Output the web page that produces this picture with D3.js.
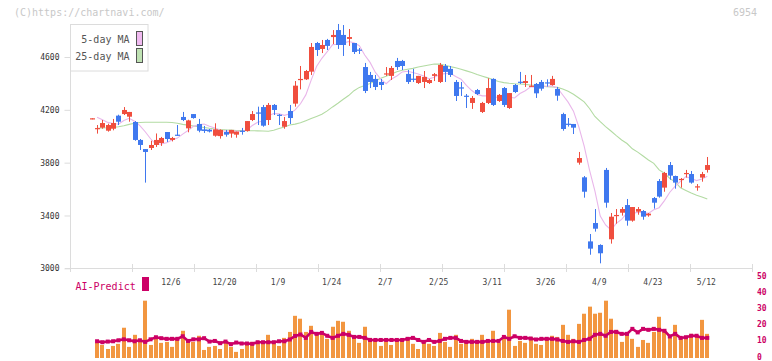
<!DOCTYPE html>
<html><head><meta charset="utf-8">
<script src="https://cdn.jsdelivr.net/npm/d3@7"></script>
<style>body{margin:0;background:#fff}svg{display:block}text{font-family:"DejaVu Sans Mono",monospace}</style>
</head><body>
<svg id="c" width="772" height="361"></svg>
<script>
// ---- data ----
const dates = ["11/15","11/18","11/19","11/20","11/21","11/22","11/25","11/26","11/27","11/28","11/29",
"12/2","12/3","12/4","12/5","12/6","12/9","12/10","12/11","12/12","12/13","12/16","12/17","12/18","12/19","12/20","12/23","12/24","12/25","12/26","12/27","12/30",
"1/6","1/7","1/8","1/9","1/10","1/14","1/15","1/16","1/17","1/20","1/21","1/22","1/23","1/24","1/27","1/28","1/29","1/30","1/31",
"2/3","2/4","2/5","2/6","2/7","2/10","2/12","2/13","2/14","2/17","2/18","2/19","2/20","2/21","2/25","2/26","2/27","2/28",
"3/3","3/4","3/5","3/6","3/7","3/10","3/11","3/12","3/13","3/14","3/17","3/18","3/19","3/21","3/24","3/25","3/26","3/27","3/28","3/31",
"4/1","4/2","4/3","4/4","4/7","4/8","4/9","4/10","4/11","4/14","4/15","4/16","4/17","4/18","4/21","4/22","4/23","4/24","4/25","4/28","4/30",
"5/1","5/2","5/7","5/8","5/9","5/12"];
const open  = [4136,4055,4065,4042,4057,4156,4168,4148,4108,3972,3903,3911,3934,3949,4032,3972,4012,4146,4060,4168,4093,4052,4050,4004,4001,4032,4020,4012,4042,4040,4123,4180,4221,4123,4237,4163,4072,4191,4247,4428,4431,4489,4706,4661,4729,4751,4804,4767,4737,4706,4656,4524,4464,4434,4411,4468,4457,4570,4570,4472,4436,4403,4411,4403,4457,4411,4532,4510,4411,4370,4307,4252,4350,4184,4252,4434,4267,4365,4214,4388,4413,4403,4379,4396,4411,4408,4388,4358,4168,4095,4093,3800,3689,3204,3343,3177,3745,3220,3398,3421,3479,3361,3429,3434,3401,3532,3661,3611,3782,3699,3671,3716,3714,3615,3687,3745];
const high  = [4136,4085,4123,4095,4131,4163,4221,4184,4115,3979,3903,3966,4021,3995,4032,3995,4085,4184,4125,4168,4131,4078,4055,4098,4052,4048,4048,4035,4063,4115,4191,4224,4237,4252,4244,4168,4146,4237,4418,4532,4502,4706,4714,4729,4737,4804,4850,4842,4812,4706,4668,4555,4487,4464,4434,4524,4532,4593,4578,4502,4510,4457,4494,4434,4479,4555,4547,4532,4426,4411,4320,4305,4358,4260,4439,4439,4320,4373,4327,4396,4487,4464,4464,4403,4426,4431,4457,4373,4178,4138,4093,3881,3699,3260,3449,3182,3760,3419,3449,3464,3525,3464,3464,3441,3419,3540,3676,3730,3805,3702,3684,3745,3737,3638,3730,3843];
const low   = [4136,4020,4057,4035,4045,4085,4161,4110,3966,3896,3649,3896,3919,3927,3957,3961,4004,4115,4030,4133,4030,4025,4029,3997,3982,3997,3989,3989,4012,4035,4115,4085,4072,4085,4161,4085,4057,4093,4224,4355,4426,4464,4608,4630,4653,4698,4661,4608,4684,4623,4623,4327,4365,4350,4350,4457,4426,4502,4502,4396,4411,4396,4365,4396,4418,4403,4411,4449,4267,4305,4214,4207,4312,4176,4244,4229,4260,4222,4207,4327,4396,4373,4373,4290,4345,4376,4383,4269,4042,4073,4017,3785,3535,3103,3278,3038,3459,3187,3338,3399,3323,3353,3406,3368,3391,3452,3535,3580,3671,3603,3611,3687,3641,3588,3656,3725];
const close = [4136,4062,4100,4085,4100,4110,4199,4184,3972,3934,3881,3934,3972,3987,3979,3987,4006,4123,4120,4138,4042,4040,4036,4052,4048,4012,4048,4035,4038,4115,4168,4176,4080,4237,4199,4160,4115,4138,4383,4434,4494,4676,4653,4691,4684,4767,4691,4691,4751,4638,4652,4343,4411,4373,4388,4476,4517,4524,4532,4411,4432,4457,4449,4426,4470,4540,4487,4464,4305,4366,4303,4290,4320,4252,4365,4237,4313,4237,4327,4335,4409,4418,4383,4325,4360,4404,4434,4307,4055,4091,4065,3835,3580,3149,3300,3114,3497,3391,3404,3449,3361,3464,3449,3391,3414,3497,3543,3722,3702,3649,3677,3722,3649,3621,3714,3782];
const ma5   = [null,4143,4125,4105,4097,4091,4119,4136,4113,4080,4034,3981,3939,3942,3951,3972,3986,4016,4043,4075,4086,4093,4075,4062,4044,4038,4039,4039,4036,4050,4081,4106,4115,4155,4172,4170,4158,4170,4199,4246,4313,4425,4528,4590,4640,4694,4697,4705,4717,4708,4685,4615,4559,4483,4433,4398,4433,4456,4487,4492,4483,4471,4456,4435,4447,4468,4474,4477,4453,4432,4385,4346,4317,4306,4306,4293,4297,4281,4296,4290,4324,4345,4374,4374,4379,4378,4381,4366,4312,4258,4190,4071,3925,3744,3586,3396,3328,3290,3341,3371,3420,3414,3425,3423,3416,3443,3459,3513,3576,3623,3659,3694,3680,3664,3677,3698];
const ma25  = [null,4060,4062,4064,4067,4072,4080,4090,4098,4104,4106,4106,4106,4106,4106,4104,4098,4090,4084,4078,4072,4066,4060,4055,4051,4048,4046,4044,4043,4042,4042,4041,4040,4038,4045,4058,4070,4085,4092,4102,4118,4135,4150,4166,4192,4222,4250,4280,4308,4345,4370,4385,4400,4420,4440,4455,4472,4489,4500,4507,4514,4524,4532,4540,4547,4546,4538,4527,4518,4507,4495,4482,4468,4455,4442,4428,4414,4406,4401,4398,4396,4393,4388,4386,4380,4376,4373,4370,4358,4340,4318,4290,4260,4210,4150,4110,4073,4040,4005,3972,3945,3905,3880,3850,3820,3795,3745,3720,3680,3655,3610,3590,3570,3553,3540,3525];
const volume = [null,9.4,8.1,5.6,7.5,8.8,18.8,6.9,14.4,10,35.6,8.1,11.9,9.4,10,6.9,11.2,16.9,10.6,10,13.8,5,6.9,7.5,5.6,10.6,6.9,3.8,5.6,8.8,10,10,10,14.4,10,7.5,12.5,16.2,26.2,24.4,16.2,20,15,15.6,11.9,19.4,23.1,22.5,16.9,12.5,9.4,19.4,12.5,10.6,7.5,10,8.1,10.6,11.2,12.5,8.8,5.6,10,8.8,7.5,15.6,10,6.9,14.4,8.8,11.2,11.9,9.4,14.4,10.6,16.9,9.4,12.5,30,7.5,10.6,9.4,13.1,8.8,8.1,12.5,13.8,13.1,20.6,14.4,11.9,21.2,27.5,31.9,27.5,28.1,35.6,24.4,17.5,10,15,11.9,6.9,11.2,9.4,16.2,25.6,16.5,12.5,20.6,11.9,13.1,15,13.5,23.7,15];
const volMA = [null,10.4,9.8,10.2,10.4,11.0,11.6,11.0,10.4,11.0,10.0,11.6,12.9,12.3,11.9,11.9,11.9,13.5,10.6,11.6,11.6,12.3,10.2,10.6,9.2,10.2,8.6,9.6,9.0,9.0,8.8,9.8,9.8,9.8,9.8,10.4,10.4,11.5,13.7,14.6,12.5,16.2,15,15.6,13.8,12.5,13.8,15,14.4,13.1,13.1,12.5,11.2,11.2,11.2,11.2,11.2,11.2,11.2,11.9,12.5,11.2,10,11.2,10,10.6,11.9,12.5,12.5,10.6,10,10,10,10,10.6,10.6,10.6,13.1,11.9,13.5,12.5,12.5,12.1,11.5,11.9,11.9,11.9,11.5,10.6,10,10.4,10,11.2,11.9,14.4,15,13.8,16.2,16.2,15,15,18.1,15.9,18.1,17.5,18.1,17.5,16.9,13.4,15,12.5,12.9,13.8,13.8,12.5,12.5];
const xLabels = ["12/6","12/20","1/9","1/24","2/7","2/25","3/11","3/26","4/9","4/23","5/12"];
const yTicks = [3000,3400,3800,4200,4600];
const volTicks = [0,10,20,30,40,50];

// ---- chart ----
const svg = d3.select("#c");
const RED="#f04e3e", BLUE="#3f78ef", AX="#dcdcdc";
const x = d3.scalePoint().domain(dates).range([91.7, 707.3]);
const y = d3.scaleLinear().domain([3000,4600]).range([268.33,57]);
const yv = d3.scaleLinear().domain([0,50]).range([358,277.5]);
const cx = d => Math.round(x(d));

// header texts
svg.append("text").attr("x",14).attr("y",16).attr("font-size",10).attr("fill","#c8c8c8").text("(C)https://chartnavi.com/");
svg.append("text").attr("x",757).attr("y",16).attr("text-anchor","end").attr("font-size",10).attr("fill","#c8c8c8").text("6954");

// axes lines
svg.append("line").attr("x1",70.5).attr("x2",70.5).attr("y1",24).attr("y2",272).attr("stroke",AX);
svg.append("line").attr("x1",65).attr("x2",752.5).attr("y1",268.5).attr("y2",268.5).attr("stroke",AX);
const tickPos = d3.scaleLinear().domain([0,11]).range([70.5,752]);
svg.append("g").selectAll("line").data(d3.range(1,12)).join("line")
  .attr("x1",d=>Math.round(tickPos(d))+0.5).attr("x2",d=>Math.round(tickPos(d))+0.5)
  .attr("y1",264).attr("y2",272).attr("stroke",AX);

// y axis
const ya = svg.append("g").attr("transform","translate(70.5,0)")
  .call(d3.axisLeft(y).tickValues(yTicks).tickFormat(d3.format("d")).tickSize(6).tickPadding(5));
ya.select(".domain").remove();
ya.selectAll("line").attr("stroke",AX);
ya.selectAll("text").attr("font-size",8).attr("fill","#333").attr("font-family","DejaVu Sans Mono");

// x labels
const xa = svg.append("g").attr("transform","translate(-1.5,268)")
  .call(d3.axisBottom(x).tickValues(xLabels).tickSize(0).tickPadding(11));
xa.select(".domain").remove();
xa.selectAll("text").attr("font-size",8).attr("fill","#444").attr("font-family","DejaVu Sans Mono");

// moving averages
const line = d3.line().defined(d=>d.v!=null).x(d=>x(d.d)).y(d=>y(d.v));
svg.append("path").datum(dates.map((d,i)=>({d,v:ma25[i]}))).attr("d",line)
  .attr("fill","none").attr("stroke","#b3dba3").attr("stroke-width",1.1);
svg.append("path").datum(dates.map((d,i)=>({d,v:ma5[i]}))).attr("d",line)
  .attr("fill","none").attr("stroke","#e9b6ea").attr("stroke-width",1.1);

// candles
const cg = svg.append("g");
dates.forEach((d,i)=>{
  const o=open[i], c=close[i], col = c>=o ? RED : BLUE;
  const xc = cx(d);
  cg.append("rect").attr("x",xc).attr("width",1)
    .attr("y",y(high[i])).attr("height",Math.max(1,y(low[i])-y(high[i]))).attr("fill",col);
  const top = y(Math.max(o,c)), h = Math.max(1.2, Math.abs(y(o)-y(c)));
  cg.append("rect").attr("x",xc-2).attr("width",5).attr("y",top).attr("height",h).attr("fill",col);
});

// legend
svg.append("rect").attr("x",70.5).attr("y",24.5).attr("width",77.5).attr("height",46.5)
  .attr("fill","#fff").attr("stroke",AX);
svg.append("text").attr("x",129.5).attr("y",43).attr("text-anchor","end").attr("font-size",10).attr("fill","#555").text("5-day MA");
svg.append("text").attr("x",129.5).attr("y",60).attr("text-anchor","end").attr("font-size",10).attr("fill","#555").text("25-day MA");
svg.append("rect").attr("x",136.5).attr("y",31.5).attr("width",6).attr("height",14).attr("fill","#f0baf0").attr("stroke","#555");
svg.append("rect").attr("x",136.5).attr("y",48.5).attr("width",6).attr("height",14).attr("fill","#bfe2b3").attr("stroke","#555");

// volume panel
svg.append("text").attr("x",75.5).attr("y",290).attr("font-size",10).attr("fill","#cc0066").text("AI-Predict");
svg.append("rect").attr("x",142).attr("y",277).attr("width",7).attr("height",14).attr("fill","#cc0066");
svg.append("g").selectAll("rect").data(dates.map((d,i)=>({d,v:volume[i]})).filter(e=>e.v!=null)).join("rect")
  .attr("x",e=>cx(e.d)-2).attr("width",4)
  .attr("y",e=>yv(e.v)).attr("height",e=>358-yv(e.v)).attr("fill","#f29640");
const vline = d3.line().defined(d=>d.v!=null).x(d=>x(d.d)).y(d=>yv(d.v));
const vm = dates.map((d,i)=>({d,v:volMA[i]}));
svg.append("path").datum(vm).attr("d",vline).attr("fill","none").attr("stroke","#cc0066").attr("stroke-width",2.6);
svg.append("g").selectAll("rect").data(vm.filter(e=>e.v!=null)).join("rect")
  .attr("x",e=>x(e.d)-2).attr("y",e=>yv(e.v)-2).attr("width",4).attr("height",4).attr("fill","#cc0066");
const va = svg.append("g").attr("transform","translate(754,-1)")
  .call(d3.axisRight(yv).tickValues(volTicks).tickSize(0).tickPadding(3));
va.select(".domain").remove();
va.selectAll("text").attr("dy","0.25em").attr("font-size",8).attr("font-weight","bold").attr("fill","#cc0066").attr("font-family","DejaVu Sans Mono");
</script>
</body></html>
